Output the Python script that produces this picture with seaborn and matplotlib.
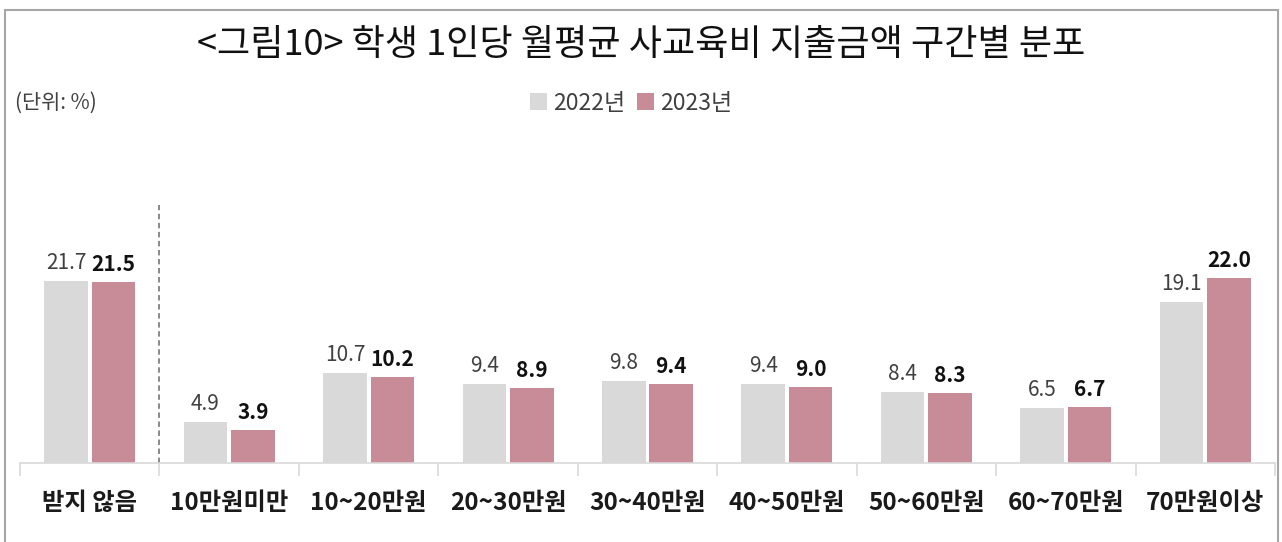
import matplotlib
matplotlib.use("Agg")
import matplotlib.pyplot as plt
import seaborn as sns
import pandas as pd
from matplotlib.patches import Rectangle, Patch

categories = ["받지 않음", "10만원미만", "10~20만원", "20~30만원", "30~40만원",
              "40~50만원", "50~60만원", "60~70만원", "70만원이상"]
v2022 = [21.7, 4.9, 10.7, 9.4, 9.8, 9.4, 8.4, 6.5, 19.1]
v2023 = [21.5, 3.9, 10.2, 8.9, 9.4, 9.0, 8.3, 6.7, 22.0]
series = ["2022년", "2023년"]
colors = ["#D9D9D9", "#C88B98"]

sns.set_theme(style="white")
plt.rcParams['font.family'] = ['Noto Sans CJK KR', 'DejaVu Sans']

df = pd.DataFrame({
    "cat": categories * 2,
    "val": v2022 + v2023,
    "year": [series[0]] * len(categories) + [series[1]] * len(categories),
})

W, H = 1282, 542
fig = plt.figure(figsize=(W / 100, H / 100), dpi=100)
ax_top_px = 130
ax = fig.add_axes([20 / W, (H - 463) / H, (1275 - 20) / W, (463 - ax_top_px) / H])

sns.barplot(data=df, x="cat", y="val", hue="year", palette=colors, width=0.68, gap=0.08,
            ax=ax, legend=False, saturation=1, edgecolor="none", linewidth=0)

ax.set_ylim(0, (463 - ax_top_px) / 8.41)
ax.set_xlim(-0.5, len(categories) - 0.5)
ax.set_xlabel("")
ax.set_ylabel("")
ax.set_yticks([])
for s in ["top", "left", "right"]:
    ax.spines[s].set_visible(False)
ax.spines["bottom"].set_color("#D9D9D9")
ax.spines["bottom"].set_linewidth(1.2)

ax.set_xticks(range(len(categories)))
ax.set_xticklabels(categories, fontsize=17.5, fontweight="bold", color="#1a1a1a")
ax.tick_params(axis="x", which="major", length=0, pad=20)
ax.set_xticks([i - 0.5 for i in range(len(categories) + 1)], minor=True)
ax.tick_params(axis="x", which="minor", length=9, width=1.2, color="#D9D9D9", bottom=True)

c0, c1 = ax.containers[0], ax.containers[1]
ax.bar_label(c0, labels=[f"{v:.1f}" for v in v2022], padding=5, fontsize=15, color="#404040")
ax.bar_label(c1, labels=[f"{v:.1f}" for v in v2023], padding=5, fontsize=15,
             fontweight="bold", color="#111111")

ax.vlines(0.5, 0, (463 - 205) / 8.41, colors="#808080", linestyles=(0, (3, 2)), linewidth=1.3)

fig.text(0.5, 1 - 45 / H, "<그림10> 학생 1인당 월평균 사교육비 지출금액 구간별 분포",
         ha="center", va="center", fontsize=26, color="#111111")
fig.text(15 / W, 1 - 103 / H, "(단위: %)", ha="left", va="center", fontsize=15, color="#404040")

handles = [Patch(facecolor=c, edgecolor="none") for c in colors]
fig.legend(handles, series, loc="center", bbox_to_anchor=(631 / W, 1 - 103 / H), ncol=2,
           frameon=False, fontsize=16.5, handlelength=0.75, handleheight=0.75,
           handletextpad=0.25, columnspacing=0.5, labelcolor="#404040")

fig.patches.append(Rectangle((5 / W, -0.05), (1278 - 5) / W, 1.05 - 10 / H,
                             transform=fig.transFigure, fill=False,
                             edgecolor="#A6A6A6", linewidth=1.5))

fig.savefig("out.png", dpi=100)
